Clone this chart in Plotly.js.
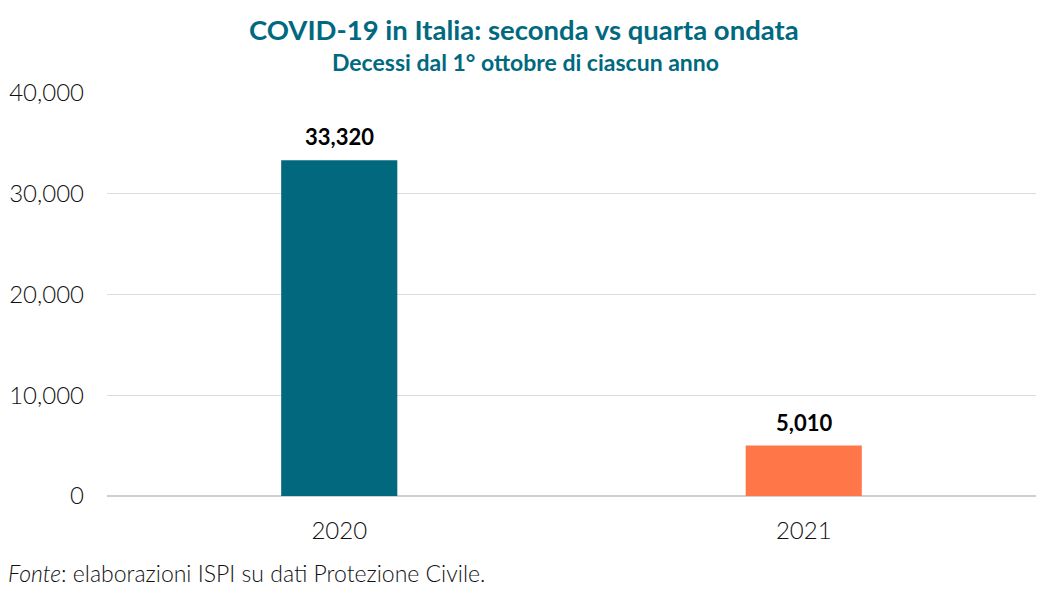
<!DOCTYPE html>
<html>
<head>
<meta charset="utf-8">
<script src="https://cdn.plot.ly/plotly-3.0.1.min.js"></script>
<style>html,body{margin:0;padding:0;background:#fff;}#chart{width:1048px;height:594px;}</style>
</head>
<body>
<div id="chart"></div>
<script>
const categories = ["2020", "2021"];
const deaths = [33320, 5010];
const labels = ["33,320", "5,010"];
const barColors = ["#02687E", "#FF7748"];
const yTicks = [0, 10000, 20000, 30000, 40000];
const yTickLabels = ["0", "10,000", "20,000", "30,000", "40,000"];

const FONT = "Lato, 'Open Sans', sans-serif";

const trace = {
  type: "bar",
  x: categories,
  y: deaths,
  marker: {color: barColors},
  hoverinfo: "none"
};

const W = 1048, H = 594;
const M = {l: 107, r: 12, t: 93, b: 98};
const plotW = W - M.l - M.r, plotH = H - M.t - M.b;
const px2paperY = py => (H - M.b - py) / plotH;
const px2paperX = px => (px - M.l) / plotW;

const annotations = [
  {
    text: "<b>COVID-19 in Italia: seconda vs quarta ondata</b>",
    xref: "paper", x: px2paperX(524), xanchor: "center",
    yref: "paper", y: px2paperY(30), yanchor: "middle",
    showarrow: false,
    font: {family: FONT, size: 27.5, color: "#00697F"}
  },
  {
    text: "<b>Decessi dal 1° ottobre di ciascun anno</b>",
    xref: "paper", x: px2paperX(525), xanchor: "center",
    yref: "paper", y: px2paperY(62), yanchor: "middle",
    showarrow: false,
    font: {family: FONT, size: 23, color: "#00697F"}
  },
  {
    text: "<i>Fonte</i>: elaborazioni ISPI su dati Protezione Civile.",
    xref: "paper", x: px2paperX(6), xanchor: "left",
    yref: "paper", y: px2paperY(573), yanchor: "middle",
    showarrow: false,
    font: {family: FONT, size: 23, color: "#111", weight: 300}
  }
];
categories.forEach((c, i) => {
  annotations.push({
    text: labels[i],
    xref: "x", x: i, yref: "y", y: deaths[i],
    yanchor: "bottom", yshift: 8,
    showarrow: false,
    font: {family: FONT, size: 22, color: "#000", weight: 700}
  });
});

const layout = {
  width: W,
  height: H,
  margin: M,
  paper_bgcolor: "#fff",
  plot_bgcolor: "#fff",
  bargap: 0.75,
  showlegend: false,
  font: {family: FONT},
  xaxis: {
    type: "category",
    showgrid: false,
    showline: false,
    ticks: "",
    tickfont: {family: FONT, size: 24, color: "#111", weight: 300},
    ticklabelstandoff: 18
  },
  yaxis: {
    range: [0, 40000],
    tickvals: yTicks,
    ticktext: yTickLabels,
    showgrid: true,
    gridcolor: "#dcdcdc",
    gridwidth: 1,
    zeroline: true,
    zerolinecolor: "#cfcfcf",
    zerolinewidth: 1.5,
    showline: false,
    ticks: "",
    tickfont: {family: FONT, size: 24, color: "#111", weight: 300},
    ticklabelstandoff: 22,
    fixedrange: true
  },
  annotations: annotations
};

Plotly.newPlot("chart", [trace], layout, {displayModeBar: false, staticPlot: true});
</script>
</body>
</html>
